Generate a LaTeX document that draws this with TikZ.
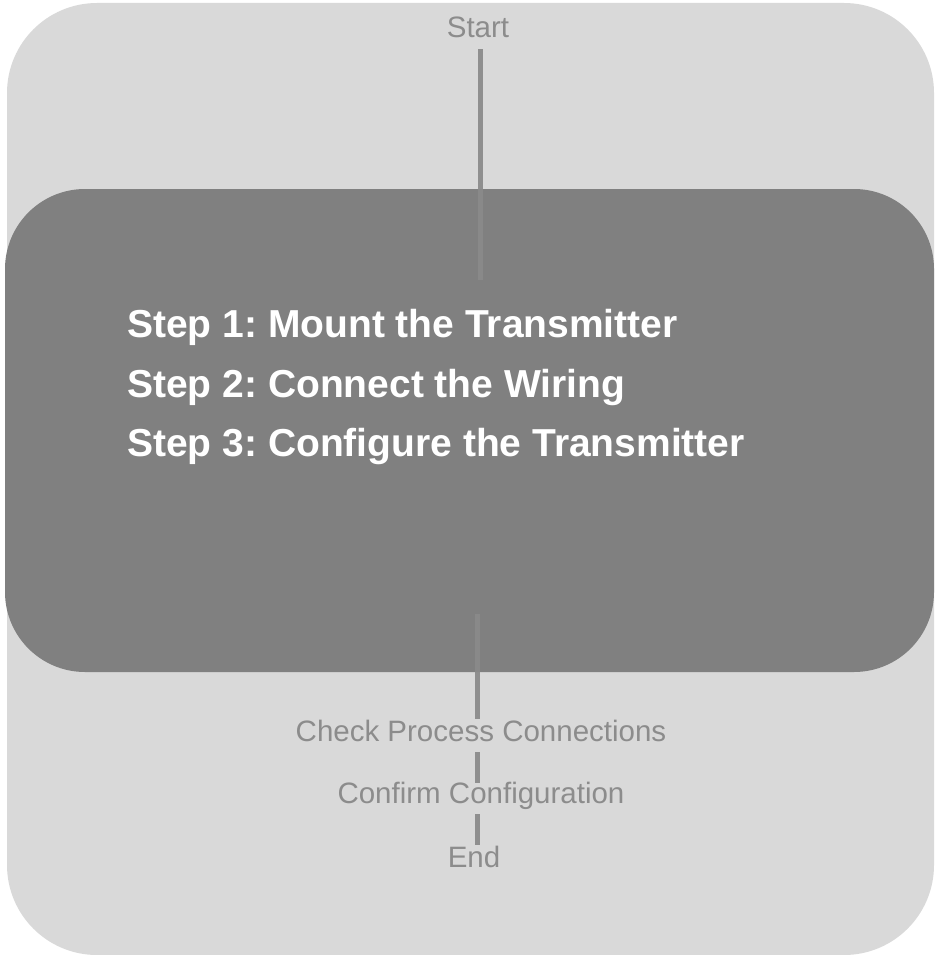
\documentclass[tikz,border=0pt]{standalone}
\usepackage{fontspec}
\setmainfont{Liberation Sans}
\definecolor{PanelGray}{HTML}{D9D9D9}
\definecolor{BandGray}{HTML}{808080}
\definecolor{LinkGray}{HTML}{8A8A8A}
\definecolor{LabelGray}{HTML}{8C8C8C}
\usetikzlibrary{positioning, calc}

\begin{document}
\frenchspacing
\begin{tikzpicture}[
        x=1pt, y=-1pt,
        label/.style={text=LabelGray, font=\fontsize{29.5}{34}\selectfont, anchor=base, inner sep=0pt, text height=22pt, text depth=11pt},
        stepline/.style={text=white, font=\fontsize{39}{46}\selectfont\bfseries, anchor=base west, inner sep=0pt},
        link/.style={draw=LinkGray, line width=5pt, opacity=0.93}
    ]
    \useasboundingbox (0,0) rectangle (934,955);
    % background panels
    \fill[PanelGray, rounded corners=90pt] (7,3) rectangle (934,955);
    \fill[BandGray, rounded corners=80pt] (5,189) rectangle (934,672);

    \node[label] (start) at (478,38) {Start};
    \node[stepline] (s1) at (127,337) {Step 1: Mount the Transmitter};
    \node[stepline] (s2) at (127,397) {Step 2: Connect the Wiring};
    \node[stepline] (s3) at (127,456) {Step 3: Configure the Transmitter};
    \node[label] (check) at (481,741) {Check Process Connections};
    \node[label] (confirm) at (481,803) {Confirm Configuration};
    \node[label] (end) at (474,867) {End};

    \coordinate (topend) at (480,280);
    \coordinate (lowstart) at (477.5,614);

    \draw[link] (start.south -| topend) -- (topend);
    \draw[link] (lowstart) -- (check.north -| lowstart);
    \draw[link] (check.south -| lowstart) -- ($(confirm.north -| lowstart)+(0,2)$);
    \draw[link] (confirm.south -| lowstart) -- (end.north -| lowstart);
\end{tikzpicture}
\end{document}
